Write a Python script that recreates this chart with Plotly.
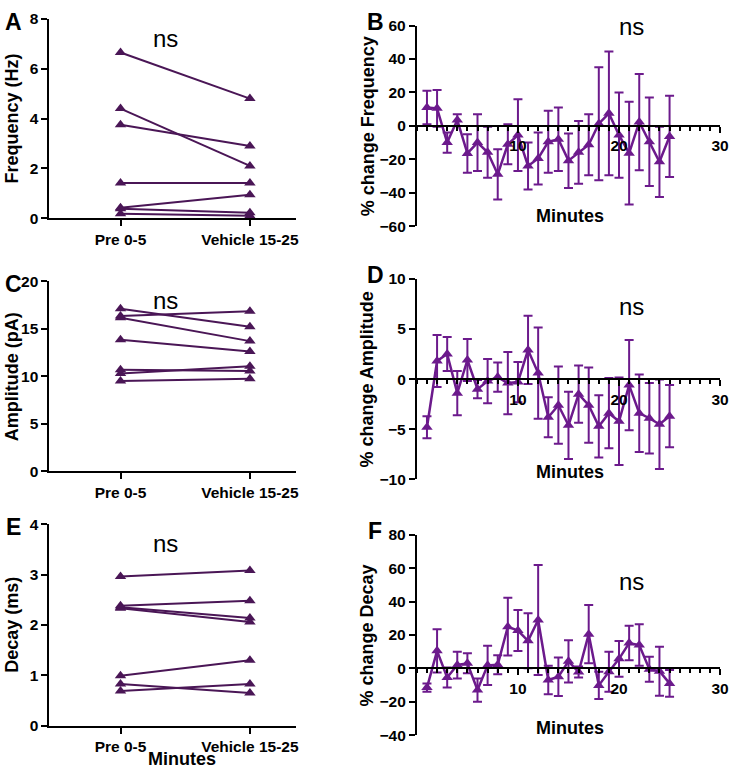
import plotly.graph_objects as go

W, H = 738, 778

# ---------------- data ----------------
groups = ["Pre 0-5", "Vehicle 15-25"]

freq_pre = [6.65, 4.4, 3.75, 1.42, 0.42, 0.38, 0.18]
freq_veh = [4.8, 2.1, 2.9, 1.42, 0.95, 0.22, 0.1]

amp_pre = [17.1, 16.35, 16.15, 13.85, 10.7, 10.3, 9.5]
amp_veh = [15.2, 16.85, 13.7, 12.6, 10.55, 11.05, 9.75]

decay_pre = [2.96, 2.38, 2.35, 2.33, 0.99, 0.83, 0.69]
decay_veh = [3.08, 2.48, 2.14, 2.06, 1.3, 0.65, 0.83]

minutes = list(range(1, 26))

freq_change = [11, 10.5, -10, 3.5, -16.5, -10, -15.8, -29, -11, -5.5, -24, -19.5, -9.5,
               -8, -20.8, -15.8, -11.3, 1.3, 7.5, -5.5, -16.3, 2.3, -9.5, -21.5, -6.3]
freq_err = [10, 11, 6, 3.5, 11.5, 17, 15.3, 15, 12, 21.5, 14, 15.5, 18.5,
            19, 16.3, 18.8, 18.3, 33.8, 37, 25.5, 30.8, 28.8, 26.5, 21, 24.3]

amp_change = [-4.8, 1.8, 2.5, -1.4, 1.9, -1.0, -0.2, 0.2, -0.4, -0.3, 2.9, 0.6, -3.8,
              -2.6, -4.6, -1.5, -2.6, -4.7, -3.4, -4.2, -0.6, -3.4, -3.9, -4.5, -3.7]
amp_err = [1.1, 2.6, 1.7, 2.2, 2.1, 0.9, 2.2, 1.45, 3.1, 2.0, 3.4, 4.55, 2.0,
           3.85, 3.35, 2.85, 3.75, 3.1, 3.5, 4.35, 4.5, 3.85, 3.5, 4.45, 3.1]

decay_change = [-11.5, 10.5, -5.5, 2, 3, -13, 1.8, 2.2, 25, 22.7, 16.5, 29, -7,
                -5, 4.2, -2.2, 20.5, -10.2, -2, 5.7, 15.2, 14, -0.5, -1.7, -9]
decay_err = [2.5, 13, 6, 8, 6, 7, 11.8, 5.7, 17.3, 12.3, 16.5, 33, 8.5,
             11.5, 12.7, 3.3, 17.5, 8.2, 12, 10.7, 10.3, 12.5, 7.5, 14.7, 8]

# ---------------- style ----------------
DARK = "#4a1656"
PURP = "#6c1a8c"
FONT = "Liberation Sans, Arial, sans-serif"

def fx(px):
    return px / W

def fy(py):
    return 1 - py / H

fig = go.Figure()

left_panels = [
    ("A", freq_pre, freq_veh, "Frequency (Hz)", [0, 8], 2, (10, 214)),
    ("C", amp_pre, amp_veh, "Amplitude (pA)", [0, 20], 5, (278.3, 472.7)),
    ("E", decay_pre, decay_veh, "Decay (ms)", [0, 4], 1, (526.7, 732.7)),
]
right_panels = [
    ("B", freq_change, freq_err, "% change Frequency", [-60, 60], 20, (17, 222), 18, 212),
    ("D", amp_change, amp_err, "% change Amplitude", [-10, 10], 5, (275.7, 481), 304, 473),
    ("F", decay_change, decay_err, "% change Decay", [-40, 80], 20, (537.7, 742.3), 585, 735),
]

LX0, LX1 = 50, 300
RX0, RX1 = 422, 729
pre_px, veh_px = 122, 253
sp = veh_px - pre_px
lrange = [-(pre_px - LX0) / sp, 1 + (LX1 - veh_px) / sp]

TICKFONT = dict(family=FONT, size=15.5, color="black", weight="bold")
TITLEFONT = dict(family=FONT, size=18, color="black", weight="bold")
LETTERFONT = dict(family=FONT, size=23, color="black", weight="bold")
NSFONT = dict(family=FONT, size=24, color="black")

annotations = []
axis_common = dict(
    showgrid=False, zeroline=False, showline=True, linecolor="black", linewidth=2,
    ticks="outside", ticklen=6, tickwidth=2, tickcolor="black",
    tickfont=TICKFONT,
)

def ann(text, x, y, font, angle=0):
    annotations.append(dict(text=text, x=fx(x), y=fy(y), xref="paper", yref="paper",
                            xanchor="center", yanchor="middle", textangle=angle,
                            showarrow=False, font=font))

n = 0
for letter, pre, veh, title, yr, dt, (ytop, ybot) in left_panels:
    n += 1
    xa = "x" if n == 1 else f"x{n}"
    ya = "y" if n == 1 else f"y{n}"
    for a, b in zip(pre, veh):
        fig.add_trace(go.Scatter(
            x=[0, 1], y=[a, b], mode="lines+markers", xaxis=xa, yaxis=ya,
            line=dict(color=DARK, width=2),
            marker=dict(symbol="triangle-up", size=10, color=DARK),
            showlegend=False, cliponaxis=False))
    fig.update_layout(**{
        ("xaxis" if n == 1 else f"xaxis{n}"): dict(
            axis_common, domain=[fx(LX0), fx(LX1)], range=lrange, anchor=ya,
            tickmode="array", tickvals=[0, 1], ticktext=groups),
        ("yaxis" if n == 1 else f"yaxis{n}"): dict(
            axis_common, domain=[fy(ybot), fy(ytop)], range=yr, anchor=xa,
            dtick=dt, tick0=0),
    })
    ymid = (ytop + ybot) / 2
    ann(title, 12, ymid, TITLEFONT, -90)
    ann(letter, 14, ytop + 3, LETTERFONT)
    ann("ns", 168, ytop + 20, NSFONT)

for letter, vals, errs, title, yr, dt, (ytop, ybot), ns_y, min_y in right_panels:
    n += 1
    xa = f"x{n}"
    ya = f"y{n}"
    fig.add_trace(go.Scatter(
        x=minutes, y=vals, mode="lines+markers", xaxis=xa, yaxis=ya,
        line=dict(color=PURP, width=2.5),
        marker=dict(symbol="triangle-up", size=10, color=PURP),
        error_y=dict(type="data", array=errs, visible=True, color=PURP, thickness=2, width=4.5),
        showlegend=False, cliponaxis=False))
    d0, d1 = fy(ybot), fy(ytop)
    zero_pos = d0 + (0 - yr[0]) / (yr[1] - yr[0]) * (d1 - d0)
    fig.update_layout(**{
        f"xaxis{n}": dict(
            axis_common, domain=[fx(RX0), fx(RX1)], range=[0, 30], anchor="free",
            position=zero_pos, tickmode="array", tickvals=[10, 20, 30],
            minor=dict(tickmode="linear", tick0=0, dtick=1, ticks="outside",
                       ticklen=4, tickwidth=1.5, tickcolor="black")),
        f"yaxis{n}": dict(
            axis_common, domain=[d0, d1], range=yr, anchor=xa, dtick=dt, tick0=0),
    })
    ymid = (ytop + ybot) / 2
    ann(title, 372, ymid, TITLEFONT, -90)
    ann(letter, 380, ytop - 4, LETTERFONT)
    ann("ns", 639, ns_y, NSFONT)
    ann("Minutes", 577, min_y, TITLEFONT)

ann("Minutes", 184, 767, TITLEFONT)

fig.update_layout(
    width=W, height=H, margin=dict(l=0, r=0, t=0, b=0),
    paper_bgcolor="white", plot_bgcolor="white",
    annotations=annotations, showlegend=False,
)

fig.write_html("out.html", config={"displayModeBar": False},
               post_script="document.body.style.margin='0px';")
